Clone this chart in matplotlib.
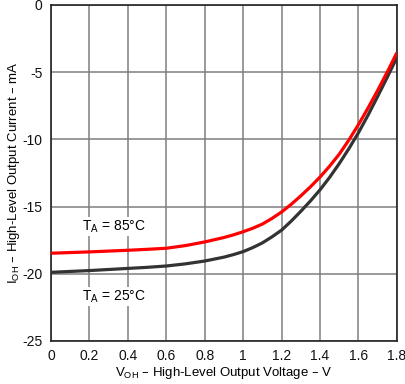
import matplotlib.pyplot as plt

plt.rcParams['font.family'] = ['Liberation Sans', 'DejaVu Sans']
plt.rcParams['axes.unicode_minus'] = False

# V_OH in volts
voh = [0, 0.2, 0.4, 0.5, 0.6, 0.7, 0.8, 0.9, 0.95, 1.0, 1.05, 1.1, 1.15, 1.2,
       1.25, 1.3, 1.35, 1.4, 1.45, 1.5, 1.55, 1.6, 1.65, 1.7, 1.75, 1.8]
# I_OH in mA, T_A = 85 C
ioh_85 = [-18.47, -18.37, -18.25, -18.18, -18.1, -17.9, -17.63, -17.3, -17.1,
          -16.87, -16.61, -16.3, -15.88, -15.4, -14.83, -14.2, -13.53, -12.8,
          -11.99, -11.1, -10.05, -8.9, -7.66, -6.35, -4.98, -3.55]
# I_OH in mA, T_A = 25 C
ioh_25 = [-19.89, -19.76, -19.6, -19.52, -19.42, -19.26, -19.05, -18.76, -18.57,
          -18.35, -18.05, -17.7, -17.25, -16.75, -16.08, -15.35, -14.58, -13.75,
          -12.82, -11.8, -10.69, -9.5, -8.19, -6.8, -5.37, -3.9]

xticks = [0, 0.2, 0.4, 0.6, 0.8, 1, 1.2, 1.4, 1.6, 1.8]
xticklabels = ['0', '0.2', '0.4', '0.6', '0.8', '1', '1.2', '1.4', '1.6', '1.8']
yticks = [-25, -20, -15, -10, -5, 0]

fig = plt.figure(figsize=(4.05, 3.84), dpi=100)
ax = fig.add_axes([0.126, 0.112, 0.854, 0.875])

ax.plot(voh, ioh_25, color='#333333', lw=2.3, solid_capstyle='butt',
        solid_joinstyle='round', zorder=3)
ax.plot(voh, ioh_85, color='#ff0000', lw=2.3, solid_capstyle='butt',
        solid_joinstyle='round', zorder=4)

ax.set_xlim(0, 1.8)
ax.set_ylim(-25, 0)
ax.set_xticks(xticks)
ax.set_xticklabels(xticklabels)
ax.set_yticks(yticks)
ax.tick_params(length=0, labelsize=10, pad=6, colors='#111111')
ax.grid(True, color='#7f7f7f', lw=1.1)
for s in ax.spines.values():
    s.set_color('#222222')
    s.set_linewidth(1.2)

ax.set_xlabel('V$_{\\mathregular{OH}}$ – High-Level Output Voltage – V', fontsize=9.5, labelpad=1)
ax.set_ylabel('I$_{\\mathregular{OH}}$ – High-Level Output Current – mA', fontsize=9.5, labelpad=0)

box = dict(facecolor='white', edgecolor='none', pad=1)
ax.text(0.16, -16.5, 'T$_{\\mathregular{A}}$ = 85°C', fontsize=10, ha='left', va='center', bbox=box, zorder=5)
ax.text(0.16, -21.7, 'T$_{\\mathregular{A}}$ = 25°C', fontsize=10, ha='left', va='center', bbox=box, zorder=5)

fig.savefig('out.png', dpi=100)
